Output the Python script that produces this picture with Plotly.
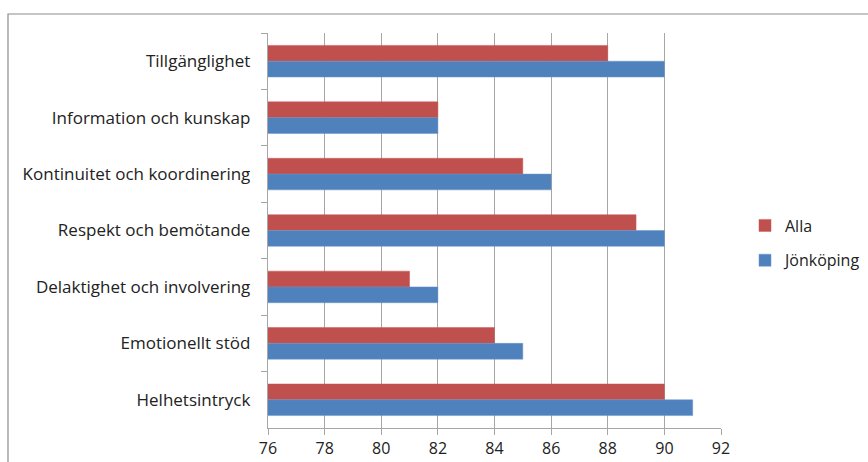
import plotly.graph_objects as go

categories = [
    "Tillgänglighet",
    "Information och kunskap",
    "Kontinuitet och koordinering",
    "Respekt och bemötande",
    "Delaktighet och involvering",
    "Emotionellt stöd",
    "Helhetsintryck",
]
alla = [88, 82, 85, 89, 81, 84, 90]
jonkoping = [90, 82, 86, 90, 82, 85, 91]
x_ticks = [76, 78, 80, 82, 84, 86, 88, 90, 92]

W, H = 868, 462
L, R, T, B = 268, 147, 33, 34
pw, ph = W - L - R, H - T - B

fig = go.Figure()
fig.add_trace(go.Bar(y=categories, x=alla, name="Alla", orientation="h", legendgroup="a",
                     marker=dict(color="#C0504D", line=dict(color="#C95B58", width=0.5))))
fig.add_trace(go.Bar(y=categories, x=jonkoping, name="Jönköping", orientation="h", legendgroup="b",
                     marker=dict(color="#4F81BD", line=dict(color="#6A95C8", width=0.5))))

font = dict(family="Open Sans, Liberation Sans, sans-serif", size=16, color="#222222")

fig.update_layout(
    width=W, height=H,
    margin=dict(l=L, r=R, t=T, b=B, autoexpand=False),
    paper_bgcolor="white", plot_bgcolor="white",
    barmode="group", bargap=0.44, bargroupgap=0,
    font=font,
    showlegend=True,
    legend=dict(xref="container", yref="container", x=745 / W, y=1 - 243 / H,
                xanchor="left", yanchor="middle", traceorder="grouped",
                font=dict(size=16), tracegroupgap=11, itemwidth=30),
    xaxis=dict(range=[76, 92], tickvals=x_ticks, showgrid=True, gridcolor="#A6A6A6",
               gridwidth=1, zeroline=False, showline=True, linecolor="#A6A6A6",
               ticks="outside", ticklen=6, tickcolor="#A6A6A6", fixedrange=True,
               tickfont=dict(size=16)),
    yaxis=dict(autorange="reversed", showline=True, linecolor="#A6A6A6",
               ticks="outside", ticklen=6, tickcolor="#A6A6A6", tickson="boundaries",
               showgrid=False, ticksuffix="   ", tickfont=dict(size=17)),
    shapes=[dict(type="rect", xref="paper", yref="paper",
                 x0=(8 - L) / pw, x1=2, y0=-1, y1=1 + (T - 14) / ph,
                 line=dict(color="#8C8C8C", width=1.2), layer="below")],
)

fig.write_html("out.html")
